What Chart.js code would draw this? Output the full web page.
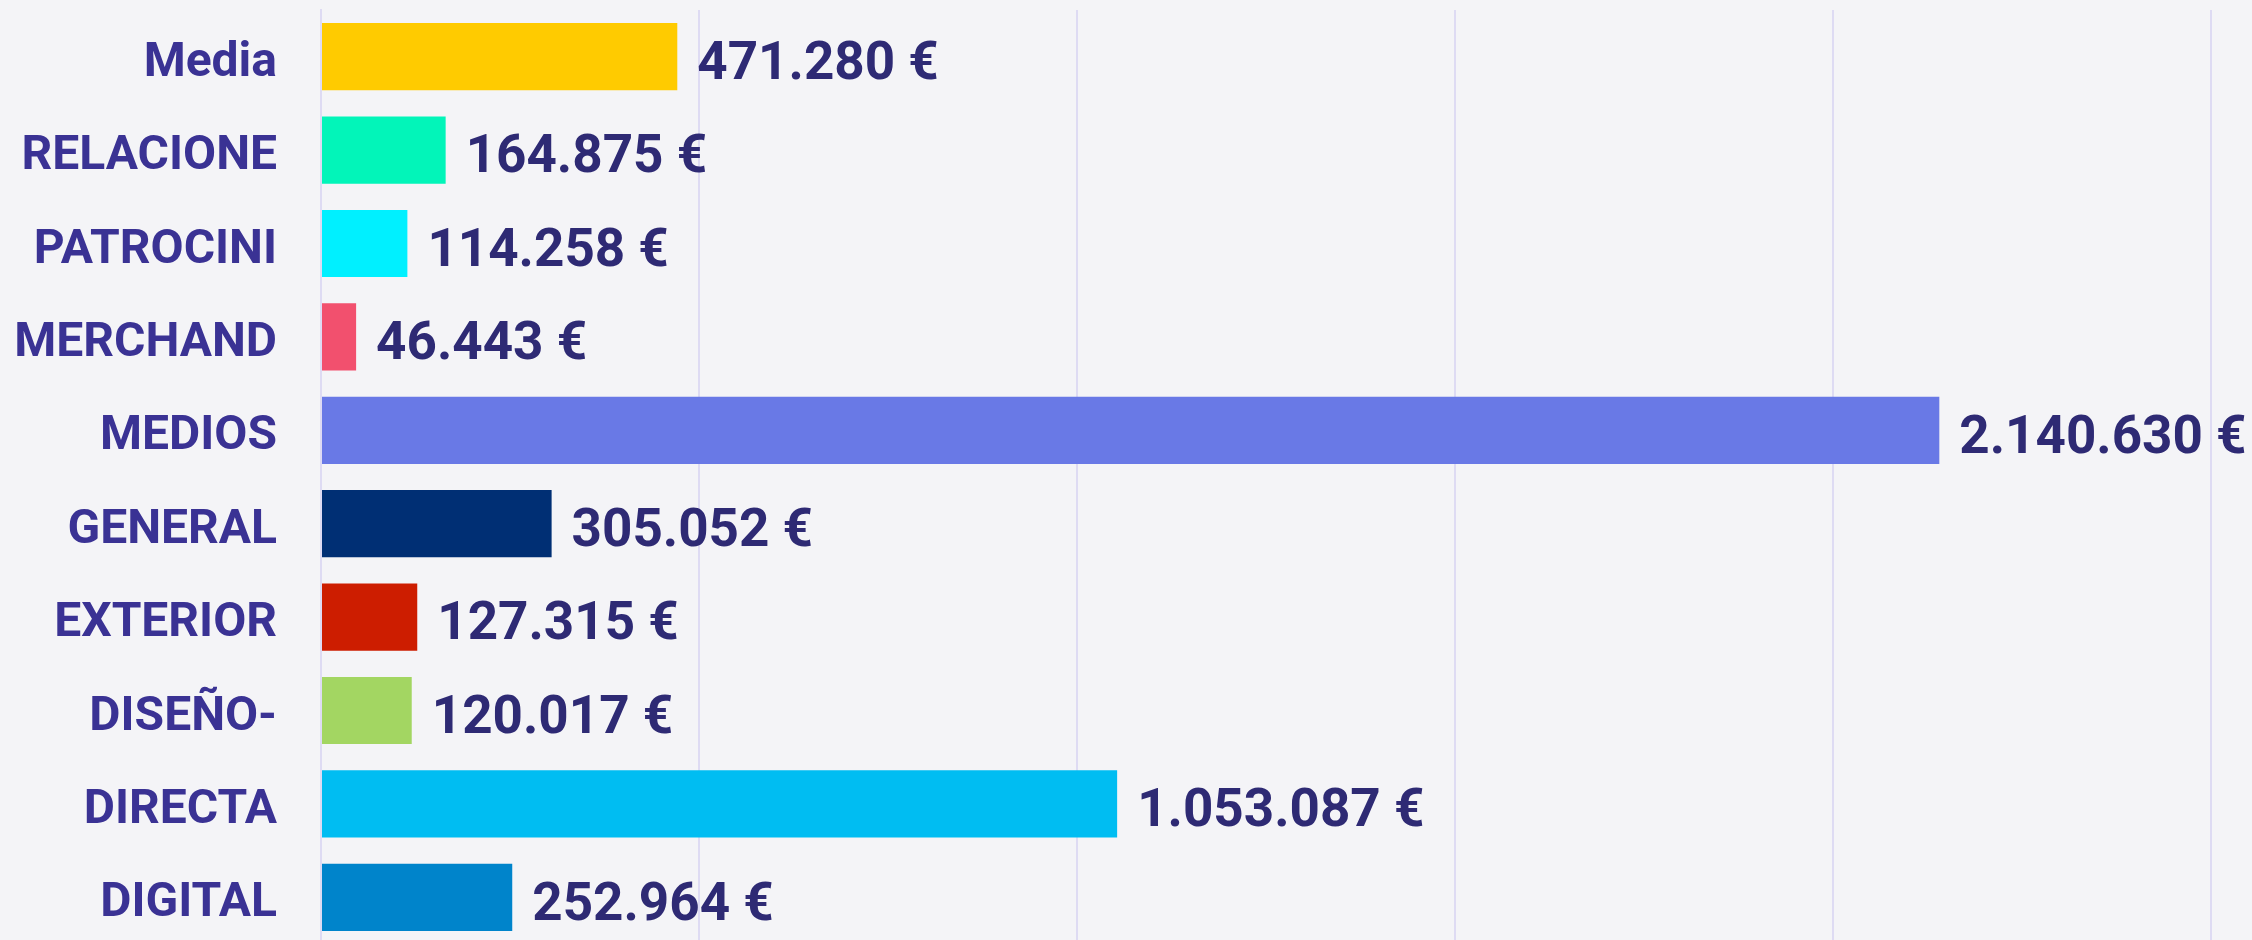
<!DOCTYPE html>
<html><head><meta charset="utf-8">
<script src="https://cdn.jsdelivr.net/npm/chart.js@4.4.1/dist/chart.umd.min.js"></script>
<style>
html,body{margin:0;padding:0;background:#f4f4f7;overflow:hidden}
canvas{display:block}
</style></head>
<body>
<canvas id="c" width="2252" height="944"></canvas>
<script>
const categories = ["Media","RELACIONE","PATROCINI","MERCHAND","MEDIOS","GENERAL","EXTERIOR","DISEÑO-","DIRECTA","DIGITAL"];
const values = [471280,164875,114258,46443,2140630,305052,127315,120017,1053087,252964];
const barColors = ["#ffcb00","#02f5b9","#00f0ff","#f2506e","#6979e6","#002f74","#cd1d00","#a3d662","#00bdf2","#0084cb"];
const xTickValues = [0,500000,1000000,1500000,2000000,2500000];

function fmtEuro(v){
  return String(Math.round(v)).replace(/\B(?=(\d{3})+(?!\d))/g, ".") + " €";
}

const valueLabels = {
  id: "valueLabels",
  afterDatasetsDraw(chart){
    const ctx = chart.ctx;
    const meta = chart.getDatasetMeta(0);
    ctx.save();
    ctx.font = "bold 53px Roboto";
    ctx.fillStyle = "#2e2a74";
    ctx.textAlign = "left";
    ctx.textBaseline = "middle";
    meta.data.forEach((bar, i) => {
      ctx.fillText(fmtEuro(values[i]), bar.x + 20, bar.y + 9);
    });
    ctx.restore();
  }
};

new Chart(document.getElementById("c"), {
  type: "bar",
  data: {
    labels: categories,
    datasets: [{
      data: values,
      backgroundColor: barColors,
      borderWidth: 0,
      barPercentage: 0.9,
      categoryPercentage: 0.8
    }]
  },
  options: {
    indexAxis: "y",
    responsive: false,
    animation: false,
    layout: { padding: { top: 10, right: 41, left: 0, bottom: 0 } },
    plugins: { legend: { display: false }, tooltip: { enabled: false } },
    scales: {
      x: {
        min: 0, max: 2500000,
        afterBuildTicks(scale){ scale.ticks = xTickValues.map(v => ({ value: v })); },
        afterFit(scale){ scale.height = 0; scale.paddingLeft = 0; scale.paddingRight = 0; },
        ticks: { display: false },
        grid: { color: "#dedbf3", lineWidth: 2, drawTicks: false },
        border: { display: false }
      },
      y: {
        afterFit(scale){ scale.width = 321; scale.paddingTop = 0; scale.paddingBottom = 0; },
        ticks: {
          padding: 44,
          labelOffset: 7,
          color: "#3a3294",
          font: { family: "Roboto", weight: "bold", size: 48 }
        },
        grid: { display: false, drawTicks: false },
        border: { display: true, color: "#dedbf3", width: 2 }
      }
    }
  },
  plugins: [valueLabels]
});
</script>
</body></html>
